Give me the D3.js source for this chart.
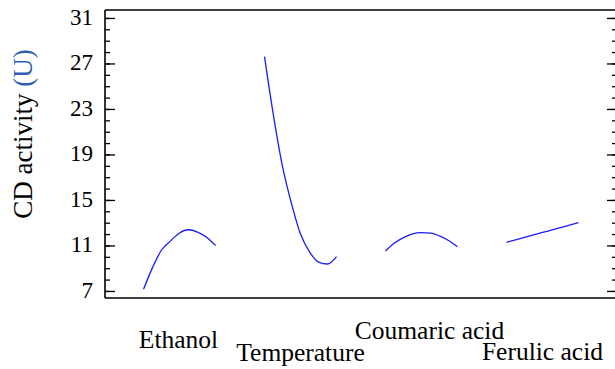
<!DOCTYPE html>
<html>
<head>
<meta charset="utf-8">
<script src="https://cdn.jsdelivr.net/npm/d3@7"></script>
<style>
  body { margin: 0; background: #fff; }
  svg { display: block; }
  svg text { font-family: "Liberation Serif", "Times New Roman", serif; }
</style>
</head>
<body>
<svg id="chart" width="615" height="369"></svg>
<script>
// main effects, coded factor level -1..1
var factors = ["Ethanol", "Temperature", "Coumaric acid", "Ferulic acid"];
var levels = [-1, -0.75, -0.5, -0.25, 0, 0.25, 0.5, 0.75, 1];
var ethanol = [7.15, 9.05, 10.6, 11.4, 12.1, 12.38, 12.18, 11.72, 11.0];
var temperature = [27.6, 22.4, 17.95, 14.67, 12.0, 10.44, 9.54, 9.37, 10.02];
var coumaric = [10.52, 11.21, 11.69, 12.02, 12.13, 12.09, 11.84, 11.43, 10.88];
var ferulic = [11.28, 11.49, 11.71, 11.92, 12.14, 12.35, 12.57, 12.79, 13.0];
var yTicks = [7, 11, 15, 19, 23, 27, 31];
var yLabel = "CD activity ";
var yUnit = "(U)";

var series = [ethanol, temperature, coumaric, ferulic];

var svg = d3.select("#chart");
// note: "top" is taken by window.top, so plot edges get their own names
var plotL = 105, plotR = 617, plotT = 10, plotB = 298;

var x = d3.scalePoint().domain(factors).range([plotL, plotR]).padding(0.616);
var xi = d3.scaleLinear().domain([-1, 1]).range([-36, 36]);
var y = d3.scaleLinear().domain([6.38, 31.7]).range([plotB, plotT]);

var minor = d3.range(7, 32, 1);

// frame lines
svg.append("line").attr("x1", plotL).attr("x2", plotR).attr("y1", plotT).attr("y2", plotT)
    .attr("stroke", "#000").attr("stroke-width", 1.6);
svg.append("line").attr("x1", plotL).attr("x2", plotR).attr("y1", plotB).attr("y2", plotB)
    .attr("stroke", "#000").attr("stroke-width", 1.6);

// minor ticks left/right
svg.append("g").attr("transform", "translate(" + plotL + ",0)")
    .call(d3.axisLeft(y).tickValues(minor).tickSize(-5).tickFormat(""))
    .call(function (g) { g.select(".domain").remove(); })
    .selectAll("line").attr("stroke", "#000").attr("stroke-width", 1.3);
svg.append("g").attr("transform", "translate(" + plotR + ",0)")
    .call(d3.axisRight(y).tickValues(minor).tickSize(-5).tickFormat(""))
    .call(function (g) { g.select(".domain").remove(); })
    .selectAll("line").attr("stroke", "#000").attr("stroke-width", 1.3);

// major ticks + labels
var yAxis = svg.append("g").attr("transform", "translate(" + plotL + ",0)")
    .call(d3.axisLeft(y).tickValues(yTicks).tickSize(-10).tickPadding(12).tickSizeOuter(0));
yAxis.attr("font-family", null).attr("font-size", null);
yAxis.select(".domain").attr("stroke", "#000").attr("stroke-width", 1.6)
    .attr("d", "M0," + plotT + "V" + plotB);
yAxis.selectAll("line").attr("stroke", "#000").attr("stroke-width", 1.3);
yAxis.selectAll("text")
    .style("font-family", "'Liberation Serif', 'Times New Roman', serif")
    .style("font-size", "23px")
    .attr("fill", "#000")
    .attr("dy", "0.28em");

svg.append("g").attr("transform", "translate(" + plotR + ",0)")
    .call(d3.axisRight(y).tickValues(yTicks).tickSize(-10).tickFormat(""))
    .call(function (g) { g.select(".domain").remove(); })
    .selectAll("line").attr("stroke", "#000").attr("stroke-width", 1.3);

// curves
var line = d3.line()
    .x(function (d) { return d.cx + xi(d.lv); })
    .y(function (d) { return y(d.v); })
    .curve(d3.curveMonotoneX);

factors.forEach(function (f, i) {
    var pts = levels.map(function (lv, j) { return { cx: x(f), lv: lv, v: series[i][j] }; });
    svg.append("path").datum(pts)
        .attr("d", line)
        .attr("fill", "none")
        .attr("stroke", "#1a1aff")
        .attr("stroke-width", 1.3);
});

// factor names, staggered like the original
var labelPos = [[-1, 348], [0, 361], [8, 339], [0, 360]];
factors.forEach(function (f, i) {
    svg.append("text")
        .attr("x", x(f) + labelPos[i][0])
        .attr("y", labelPos[i][1])
        .attr("text-anchor", "middle")
        .style("font-size", "25.5px")
        .attr("fill", "#000")
        .text(f);
});

// y title
var yt = svg.append("text")
    .attr("transform", "translate(32,134) rotate(-90)")
    .attr("text-anchor", "middle")
    .style("font-size", "27px")
    .attr("fill", "#000");
yt.append("tspan").text(yLabel);
yt.append("tspan").attr("fill", "#2f5fb3").text(yUnit);
</script>
</body>
</html>
